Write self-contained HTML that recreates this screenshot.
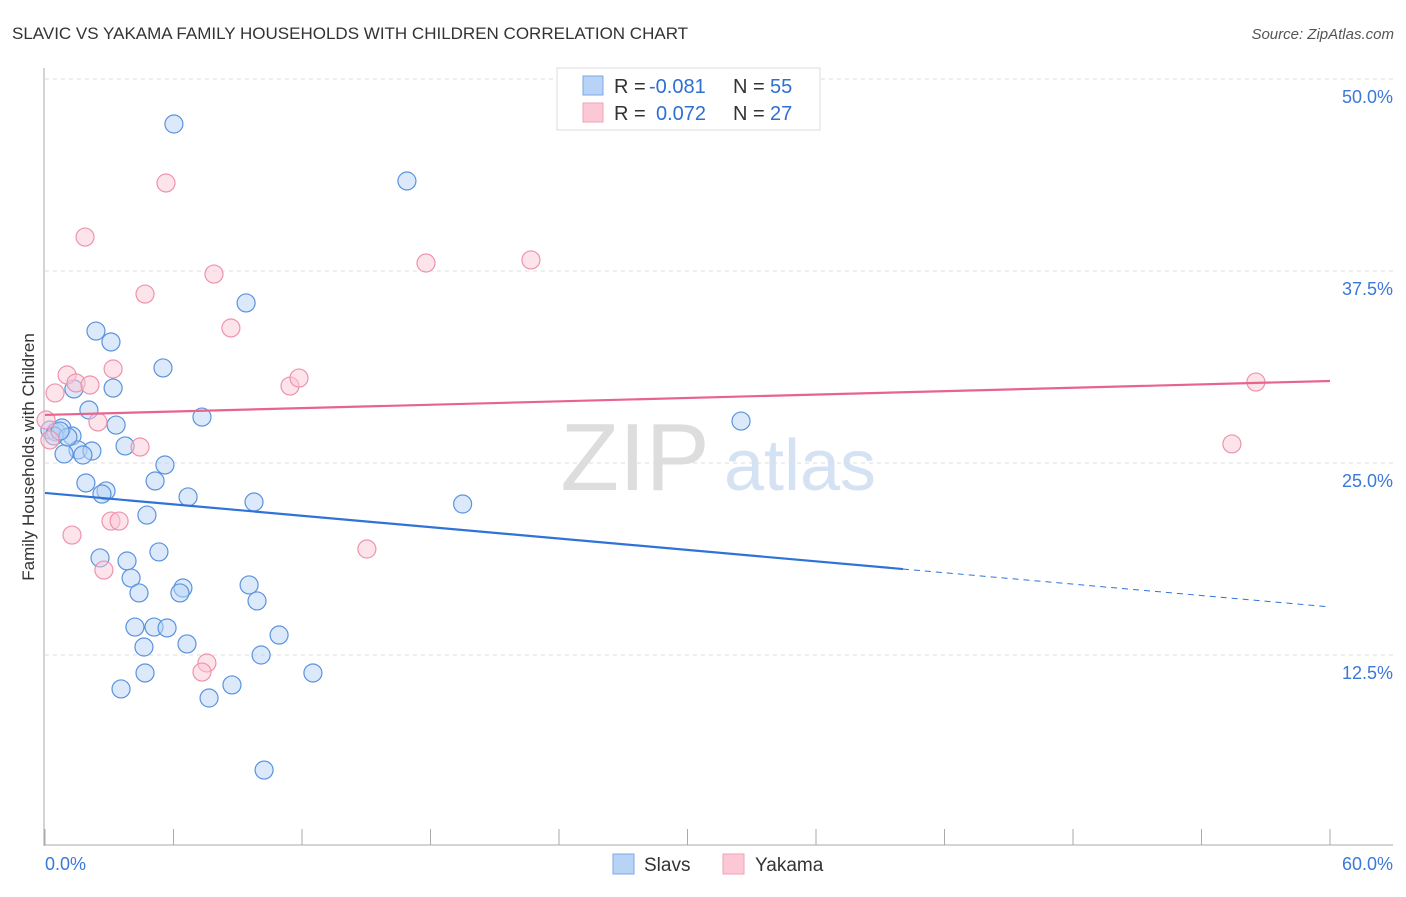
<!DOCTYPE html>
<html><head><meta charset="utf-8"><style>
body{margin:0;background:#fff;font-family:"Liberation Sans",sans-serif}
svg text{font-family:"Liberation Sans",sans-serif}
</style></head><body>
<svg id="c" width="1406" height="892">
<text x="12" y="39" font-size="17" fill="#333">SLAVIC VS YAKAMA FAMILY HOUSEHOLDS WITH CHILDREN CORRELATION CHART</text>
<text x="1394" y="39" font-size="15" fill="#555" font-style="italic" text-anchor="end">Source: ZipAtlas.com</text>
<text x="34" y="457" font-size="17" fill="#333" text-anchor="middle" transform="rotate(-90 34 457)">Family Households with Children</text>
<g><text x="635" y="490" font-size="96" fill="#ddd" font-family="Liberation Serif" text-anchor="middle">ZIP</text><text x="800" y="490" font-size="72" fill="#d4e2f4" text-anchor="middle">atlas</text></g>
<g id="grid"></g><g id="axes"></g><g id="pts"></g><g id="trend"></g>
<g>
<rect x="557" y="68" width="263" height="62" fill="#fff" stroke="#ddd"/>
<rect x="583" y="76" width="20" height="19" fill="#b8d3f5" stroke="#7aa8e6"/>
<text y="93" font-size="20" fill="#333"><tspan x="614">R =</tspan><tspan x="649" fill="#2f6fd0">-0.081</tspan><tspan x="733">N =</tspan><tspan x="770" fill="#2f6fd0">55</tspan></text>
<rect x="583" y="103" width="20" height="19" fill="#fcc8d6" stroke="#eea3b8"/>
<text y="120" font-size="20" fill="#333"><tspan x="614">R =</tspan><tspan x="656" fill="#2f6fd0">0.072</tspan><tspan x="733">N =</tspan><tspan x="770" fill="#2f6fd0">27</tspan></text>
</g>
<g>
<rect x="613" y="854" width="21" height="20" fill="#b8d3f5" stroke="#7aa8e6"/><text x="644" y="871" font-size="19" fill="#333">Slavs</text>
<rect x="723" y="854" width="21" height="20" fill="#fcc8d6" stroke="#eea3b8"/><text x="755" y="871" font-size="19" fill="#333">Yakama</text>
</g>
</svg>
<script>
const yTicks=[12.5,25,37.5,50];
const yTickLabels=["12.5%","25.0%","37.5%","50.0%"];
const xTickLabels=["0.0%","60.0%"];
const slavX=[6.02,16.9,9.39,2.38,3.08,5.51,1.35,3.18,2.05,7.33,32.5,3.32,0.23,0.51,0.79,1.26,0.42,3.74,1.54,2.19,0.89,1.77,5.6,5.14,1.91,2.85,2.66,6.68,9.76,19.5,4.76,5.32,2.57,3.83,4.02,9.53,6.44,4.39,6.3,9.9,4.2,5.09,5.7,10.93,6.63,4.62,10.09,4.67,12.51,3.55,8.73,7.66,10.23,1.07,0.7];
const slavY=[47.07,43.36,35.42,33.59,32.88,31.19,29.82,29.88,28.45,27.99,27.73,27.47,27.15,27.02,27.28,26.76,26.76,26.11,25.85,25.78,25.59,25.52,24.87,23.83,23.7,23.18,22.98,22.79,22.46,22.33,21.61,19.21,18.82,18.62,17.51,17.06,16.86,16.54,16.54,16.02,14.32,14.32,14.26,13.8,13.22,13.02,12.5,11.33,11.33,10.29,10.55,9.7,5.01,26.69,27.08];
const yakX=[0.05,0.47,1.03,1.45,2.1,3.18,2.47,4.44,5.65,1.87,4.67,7.89,8.68,11.44,11.86,17.79,22.69,56.54,55.42,1.26,2.75,3.08,3.46,15.03,7.56,7.33,0.23];
const yakY=[27.8,29.56,30.73,30.21,30.08,31.12,27.67,26.04,43.23,39.71,36.0,37.3,33.79,30.01,30.53,38.02,38.22,30.27,26.24,20.31,18.03,21.22,21.22,19.4,11.98,11.39,26.5];
const slavTrend=[23.05,15.63];const slavSolidEnd=40.06;
const yakTrend=[28.13,30.34];
const NS="http://www.w3.org/2000/svg";
const X=v=>45+v*1285/60, Y=v=>79+(50-v)*15.36;
function mk(p,t,a){const e=document.createElementNS(NS,t);for(const k in a)e.setAttribute(k,a[k]);document.getElementById(p).appendChild(e);return e;}
yTicks.forEach((t,i)=>{
 const g=mk('grid','line',{x1:45,x2:1393,y1:Y(t),y2:Y(t),stroke:'#ddd','stroke-dasharray':'4,4'});
 
 
 const l=mk('grid','text',{x:1393,y:Y(t)+24,'font-size':18,fill:'#3b78d8','text-anchor':'end'});l.textContent=yTickLabels[i];
 
 
});
mk('axes','line',{x1:44,x2:44,y1:68,y2:846,stroke:'#aaa'});
mk('axes','line',{x1:44,x2:1393,y1:845,y2:845,stroke:'#aaa'});
for(let i=0;i<=10;i++){const t=mk('axes','line',{x1:X(i*6),x2:X(i*6),y1:829,y2:845,stroke:'#aaa'});
 
 }
[[0,'start',45],[60,'end',1393]].forEach((d,i)=>{const l=mk('axes','text',{x:d[2],y:870,'font-size':18,fill:'#3b78d8','text-anchor':d[1]});l.textContent=xTickLabels[i];
 
 });
function dots(xs,ys,f,s,n){xs.forEach((x,i)=>{const c=mk('pts','circle',{cx:X(x),cy:Y(ys[i]),r:9,fill:f,'fill-opacity':0.5,stroke:s,'stroke-width':1.2});
 
 });}
dots(slavX,slavY,'#b8d3f5','#5b93dd','slavs-point');
dots(yakX,yakY,'#fcc8d6','#ee93ad','yakama-point');
const ls=v=>slavTrend[0]+(slavTrend[1]-slavTrend[0])*v/60;
let t1=mk('trend','line',{x1:X(0),y1:Y(slavTrend[0]),x2:X(slavSolidEnd),y2:Y(ls(slavSolidEnd)),stroke:'#2f73d8','stroke-width':2.2});


let t2=mk('trend','line',{x1:X(slavSolidEnd),y1:Y(ls(slavSolidEnd)),x2:X(60),y2:Y(slavTrend[1]),stroke:'#2f73d8','stroke-width':1,'stroke-dasharray':'6,5'});


let t3=mk('trend','line',{x1:X(0),y1:Y(yakTrend[0]),x2:X(60),y2:Y(yakTrend[1]),stroke:'#e8648d','stroke-width':2.2});


</script>
</body></html>
